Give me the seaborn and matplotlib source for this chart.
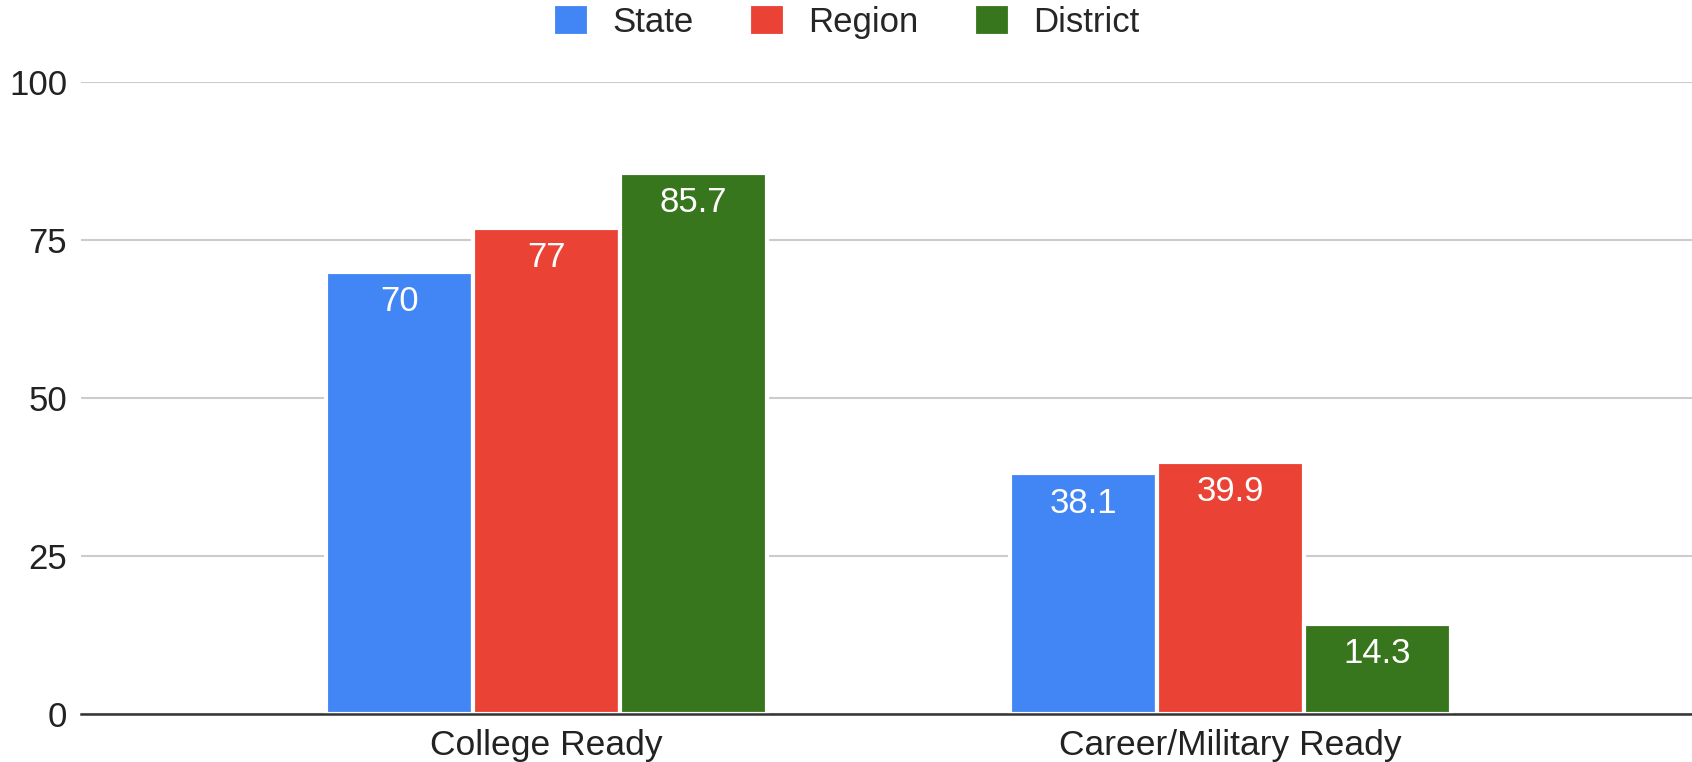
import pandas as pd
import matplotlib.pyplot as plt
import seaborn as sns

# Datos del gráfico
categorias = ["College Ready", "Career/Military Ready"]
series = ["State", "Region", "District"]
state = [70, 38.1]
region = [77, 39.9]
district = [85.7, 14.3]
colores = ["#4285F4", "#EA4335", "#38761D"]

df = pd.DataFrame({
    "categoria": categorias * 3,
    "serie": [s for s in series for _ in categorias],
    "valor": state + region + district,
})

sns.set_theme(style="white")
plt.rcParams['font.family'] = ['Liberation Sans', 'DejaVu Sans']

fig = plt.figure(figsize=(16.92, 7.62), dpi=100)
ax = fig.add_axes([0.048, 0.063, 0.952, 0.829])

sns.barplot(data=df, x="categoria", y="valor", hue="serie",
            hue_order=series, palette=colores, width=0.645,
            edgecolor="white", linewidth=3, saturation=1, ax=ax)

for cont in ax.containers:
    ax.bar_label(cont, labels=[f"{v:g}" for v in cont.datavalues],
                 padding=-33.5, color="white", fontsize=25)

ax.set_ylim(0, 100)
ax.set_xlim(-0.68, 1.675)
ax.set_yticks([0, 25, 50, 75, 100])
ax.yaxis.grid(True, color="#cccccc", linewidth=1.5)
ax.set_axisbelow(True)
for side in ["top", "right", "left"]:
    ax.spines[side].set_visible(False)
ax.spines["bottom"].set_color("#333333")
ax.spines["bottom"].set_linewidth(1.8)
ax.tick_params(axis="y", labelsize=25, labelcolor="#222222", length=0, pad=10)
ax.tick_params(axis="x", labelsize=25.5, labelcolor="#222222", length=0, pad=11)
ax.set_xlabel("")
ax.set_ylabel("")

ax.legend(loc="upper center", bbox_to_anchor=(0.5, 1.013), bbox_transform=fig.transFigure,
          ncol=3, frameon=False, fontsize=25, handlelength=1.05, handleheight=1.05,
          columnspacing=1.6, handletextpad=0.65, borderaxespad=0.0)

plt.savefig("out.png", dpi=100)
plt.close()
